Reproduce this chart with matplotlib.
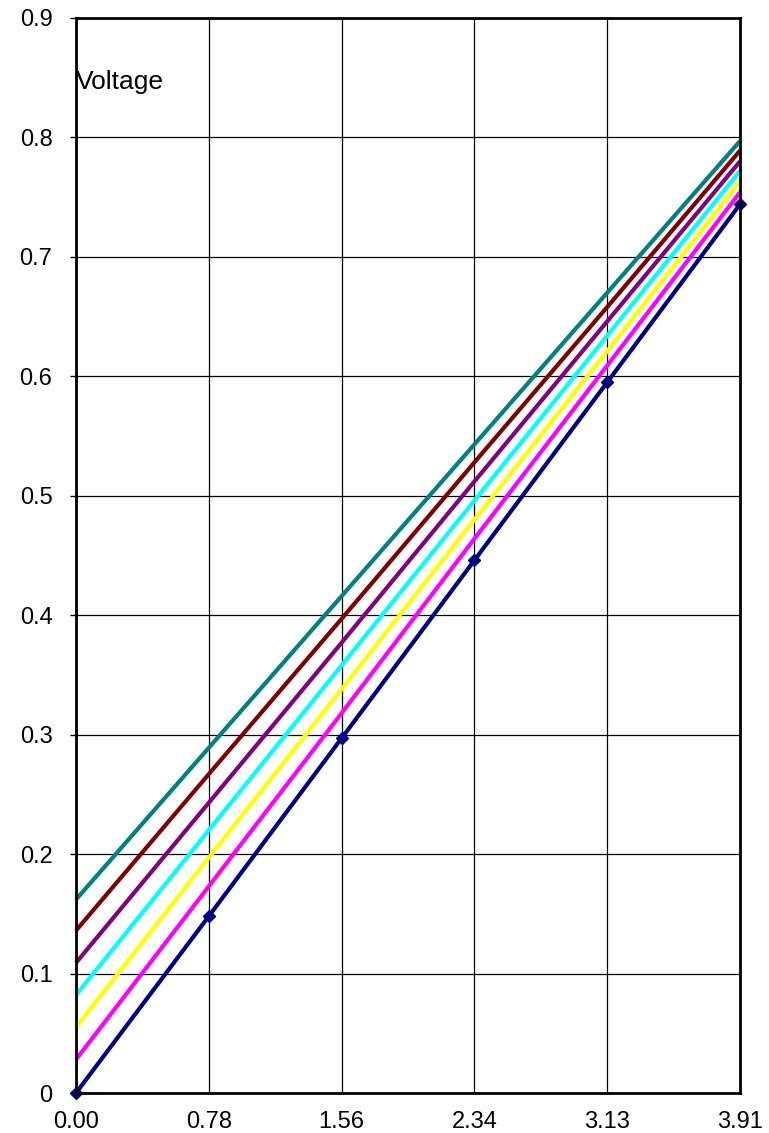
import matplotlib.pyplot as plt

plt.rcParams['font.family'] = ['Liberation Sans', 'DejaVu Sans']

x_vals = [0.0, 0.782, 1.564, 2.346, 3.128, 3.91]
x_labels = ['0.00', '0.78', '1.56', '2.34', '3.13', '3.91']

teal = [0.162, 0.289, 0.416, 0.543, 0.670, 0.797]
maroon = [0.136, 0.267, 0.397, 0.528, 0.658, 0.789]
purple = [0.109, 0.243, 0.377, 0.512, 0.646, 0.780]
cyan = [0.082, 0.220, 0.358, 0.496, 0.634, 0.772]
yellow = [0.055, 0.197, 0.338, 0.480, 0.621, 0.763]
magenta = [0.028, 0.173, 0.318, 0.464, 0.609, 0.754]
navy = [0.0, 0.148, 0.297, 0.446, 0.595, 0.744]

y_ticks = [0, 0.1, 0.2, 0.3, 0.4, 0.5, 0.6, 0.7, 0.8, 0.9]
y_labels = ['0', '0.1', '0.2', '0.3', '0.4', '0.5', '0.6', '0.7', '0.8', '0.9']

fig = plt.figure(figsize=(7.69, 11.33), dpi=100)
ax = fig.add_axes([76 / 769, 40 / 1133, 664 / 769, 1075 / 1133])

series = [
    (teal, '#008080'),
    (maroon, '#800000'),
    (purple, '#800080'),
    (cyan, '#00FFFF'),
    (yellow, '#FFFF00'),
    (magenta, '#FF00FF'),
]
for ys, c in series:
    ax.plot(x_vals, ys, color=c, lw=3, clip_on=False, solid_capstyle='butt')
ax.plot(x_vals, navy, color='#000080', lw=3, marker='D', markersize=6,
        clip_on=False, solid_capstyle='butt')

ax.set_xlim(0, 3.91)
ax.set_ylim(0, 0.9)
ax.set_xticks(x_vals)
ax.set_xticklabels(x_labels)
ax.set_yticks(y_ticks)
ax.set_yticklabels(y_labels)
ax.grid(True, color='black', lw=0.9)
ax.set_axisbelow(True)
ax.tick_params(axis='x', length=0, pad=13, labelsize=17)
ax.tick_params(axis='y', length=4, width=1, pad=13, labelsize=17, direction='out')
for s in ax.spines.values():
    s.set_linewidth(2)
    s.set_zorder(5)

ax.text(0.0, 0.846, 'Voltage', fontsize=19, ha='left', va='center')

fig.savefig('out.png', dpi=100)
